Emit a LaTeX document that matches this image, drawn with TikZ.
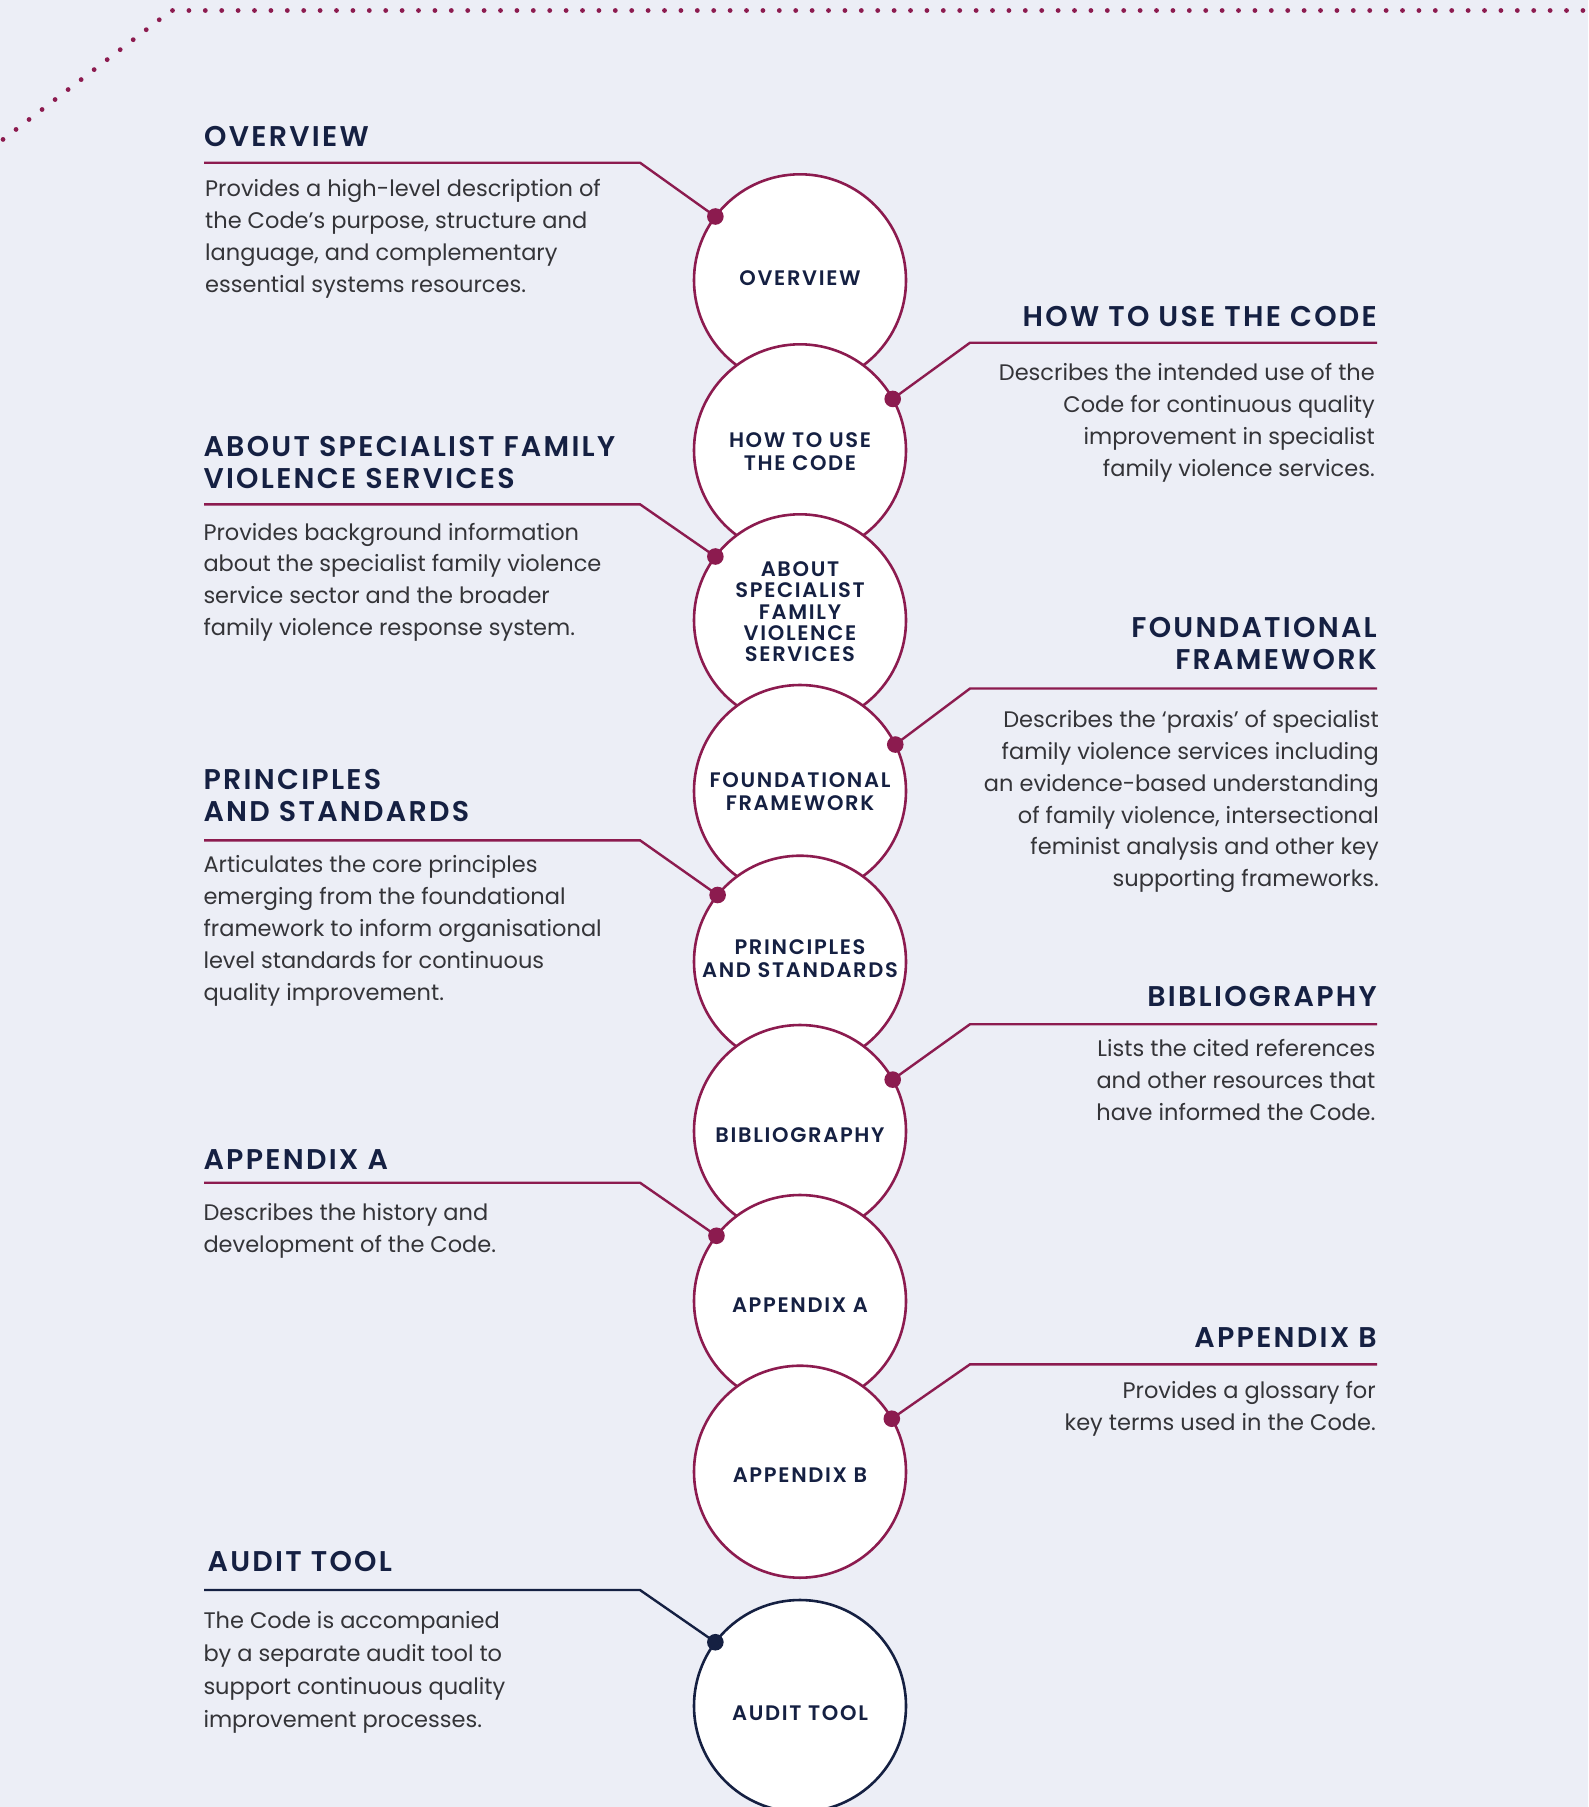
\documentclass[tikz,border=0pt]{standalone}
\usepackage{fontspec}
\setmainfont{Poppins}
\newfontfamily\headfont{Poppins SemiBold}[LetterSpace=8]
\newfontfamily\labfont{Poppins SemiBold}[LetterSpace=8]
\newfontfamily\bodyfont{Poppins}
\definecolor{bgc}{RGB}{236,238,246}
\definecolor{maroon}{RGB}{140,27,79}
\definecolor{navy}{RGB}{21,32,66}
\definecolor{bodyc}{RGB}{52,52,56}
\newcommand{\blkL}[1]{\parbox[t]{700pt}{\raggedright #1}}
\newcommand{\blkR}[1]{\parbox[t]{700pt}{\raggedleft #1}}
\tikzset{
  circ/.style={circle, draw=maroon, line width=2.6pt, fill=white, minimum size=212pt, inner sep=0pt, outer sep=0pt},
  lab/.style={align=center, inner sep=0pt, text=navy, font=\labfont\fontsize{21}{23.3}\selectfont},
  lead/.style={draw=maroon, line width=2.4pt, line join=miter},
  dotc/.style={fill=maroon},
  headL/.style={anchor=base west, inner sep=0pt, text=navy, font=\headfont\fontsize{28.5}{32}\selectfont},
  headR/.style={anchor=base east, inner sep=0pt, text=navy, font=\headfont\fontsize{28.5}{32}\selectfont},
  bodyL/.style={anchor=base west, inner sep=0pt, text=bodyc, font=\bodyfont\fontsize{22.5}{31.9}\selectfont},
  bodyR/.style={anchor=base east, inner sep=0pt, text=bodyc, font=\bodyfont\fontsize{22.5}{31.9}\selectfont},
  dotline/.style={draw=maroon, line width=4.8pt, line cap=round, dash pattern=on 0pt off 16.4pt}
}
\begin{document}
\begin{tikzpicture}[x=1pt,y=-1pt]
\useasboundingbox (0,0) rectangle (1588,1807);
\fill[bgc] (0,0) rectangle (1588,1807);
\begin{scope}
\clip (0,0) rectangle (1588,1807);
\draw[dotline] (-10,149.4) -- (171.3,10.5) -- (1600,10.5);
\end{scope}

% circles
\node[circ] (ov) at (800,280.3) {};
\node[circ] (hw) at (800,450.3) {};
\node[circ] (ab) at (800,620.3) {};
\node[circ] (fd) at (800,791) {};
\node[circ] (pr) at (800,961.7) {};
\node[circ] (bi) at (800,1131) {};
\node[circ] (aa) at (800,1301) {};
\node[circ] (ap) at (800,1471.7) {};
\node[circ, draw=navy] (au) at (800,1706) {};

% circle labels
\node[lab] (ovL) at (800,278.3) {OVERVIEW};
\node[lab] (hwL) at (800,451.3) {HOW TO USE\\THE CODE};
\node[lab, font=\labfont\fontsize{21}{21.25}\selectfont] (abL) at (800,611.8) {ABOUT\\SPECIALIST\\FAMILY\\VIOLENCE\\SERVICES};
\node[lab] (fdL) at (800,791.7) {FOUNDATIONAL\\FRAMEWORK};
\node[lab] (prL) at (800,958.3) {PRINCIPLES\\AND STANDARDS};
\node[lab] (biL) at (800,1135) {BIBLIOGRAPHY};
\node[lab] (aaL) at (800,1305) {APPENDIX A};
\node[lab] (apL) at (800,1475) {APPENDIX B};
\node[lab] (auL) at (800,1712.7) {AUDIT TOOL};

% corners and ends of leaders
\coordinate (ovK) at (640,162.7);  \coordinate (ovE) at (204,162.7);
\coordinate (hwK) at (970,342.7);  \coordinate (hwE) at (1377,342.7);
\coordinate (abK) at (640,504.3);  \coordinate (abE) at (204,504.3);
\coordinate (fdK) at (970,688.5);  \coordinate (fdE) at (1377,688.5);
\coordinate (prK) at (640,840.3);  \coordinate (prE) at (204,840.3);
\coordinate (biK) at (970,1024.2); \coordinate (biE) at (1377,1024.2);
\coordinate (aaK) at (640,1182.7); \coordinate (aaE) at (204,1182.7);
\coordinate (apK) at (970,1364.3); \coordinate (apE) at (1377,1364.3);
\coordinate (auK) at (640,1590);   \coordinate (auE) at (204,1590);

\draw[lead] (ov.143.1) -- (ovK) -- (ovE);
\draw[lead] (hw.29.9) -- (hwK) -- (hwE);
\draw[lead] (ab.143.7) -- (abK) -- (abE);
\draw[lead] (fd.26.7) -- (fdK) -- (fdE);
\draw[lead] (pr.141.2) -- (prK) -- (prE);
\draw[lead] (bi.29.9) -- (biK) -- (biE);
\draw[lead] (aa.142.7) -- (aaK) -- (aaE);
\draw[lead] (ap.30.5) -- (apK) -- (apE);
\draw[lead, draw=navy] (au.143.7) -- (auK) -- (auE);

\fill[dotc] (ov.143.1) circle (8.3);
\fill[dotc] (hw.29.9) circle (8.3);
\fill[dotc] (ab.143.7) circle (8.3);
\fill[dotc] (fd.26.7) circle (8.3);
\fill[dotc] (pr.141.2) circle (8.3);
\fill[dotc] (bi.29.9) circle (8.3);
\fill[dotc] (aa.142.7) circle (8.3);
\fill[dotc] (ap.30.5) circle (8.3);
\fill[navy] (au.143.7) circle (8.3);

% headings
\node[headL] (ovH) at (204,146.7) {OVERVIEW};
\node[headR] (hwH) at (1377,326.6) {HOW TO USE THE CODE};
\node[headL] (abH) at (203.3,456.7) {\blkL{ABOUT SPECIALIST FAMILY\\VIOLENCE SERVICES}};
\node[headR] (fdH) at (1377,637.3) {\blkR{FOUNDATIONAL\\FRAMEWORK}};
\node[headL] (prH) at (203.3,789.3) {\blkL{PRINCIPLES\\AND STANDARDS}};
\node[headR] (biH) at (1377,1006.7) {BIBLIOGRAPHY};
\node[headL] (aaH) at (203.3,1169.3) {APPENDIX A};
\node[headR] (apH) at (1377,1347.7) {APPENDIX B};
\node[headL] (auH) at (207.4,1571.2) {AUDIT TOOL};

% body texts
\node[bodyL] (ovB) at (205,196.7) {\blkL{Provides a high-level description of\\the Code’s purpose, structure and\\language, and complementary\\essential systems resources.}};
\node[bodyR] (hwB) at (1375,380.7) {\blkR{Describes the intended use of the\\Code for continuous quality\\improvement in specialist\\family violence services.}};
\node[bodyL] (abB) at (203.3,540) {\blkL{Provides background information\\about the specialist family violence\\service sector and the broader\\family violence response system.}};
\node[bodyR] (fdB) at (1379,727.3) {\blkR{Describes the ‘praxis’ of specialist\\family violence services including\\an evidence-based understanding\\of family violence, intersectional\\feminist analysis and other key\\supporting frameworks.}};
\node[bodyL] (prB) at (203.3,872.7) {\blkL{Articulates the core principles\\emerging from the foundational\\framework to inform organisational\\level standards for continuous\\quality improvement.}};
\node[bodyR] (biB) at (1375.5,1056.7) {\blkR{Lists the cited references\\and other resources that\\have informed the Code.}};
\node[bodyL] (aaB) at (203.3,1220.8) {\blkL{Describes the history and\\development of the Code.}};
\node[bodyR] (apB) at (1376,1398.3) {\blkR{Provides a glossary for\\key terms used in the Code.}};
\node[bodyL, font=\bodyfont\fontsize{22.5}{33}\selectfont] (auB) at (203.3,1628.8) {\blkL{The Code is accompanied\\by a separate audit tool to\\support continuous quality\\improvement processes.}};
\end{tikzpicture}
\end{document}
